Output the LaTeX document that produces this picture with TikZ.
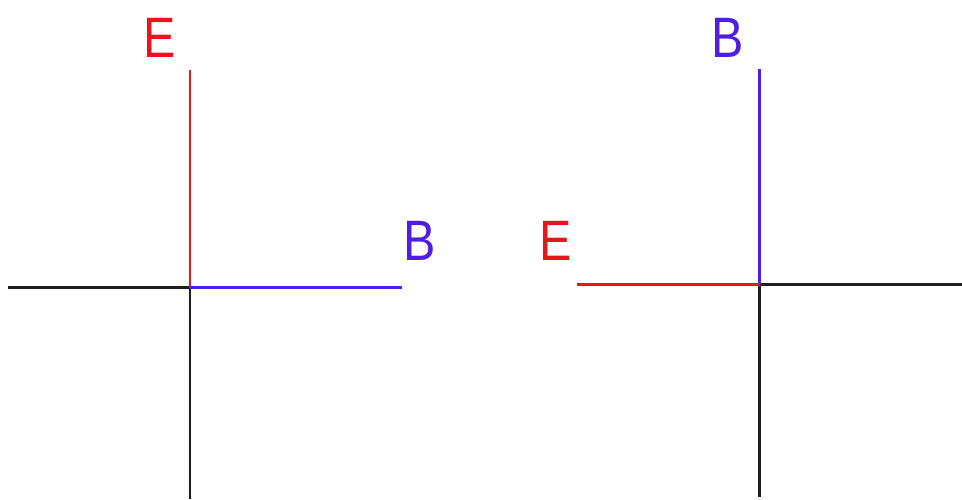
\documentclass[tikz,border=0pt]{standalone}
\usepackage{fontspec}
\setmainfont{Liberation Sans}
\definecolor{ered}{RGB}{232,20,30}
\definecolor{bblue}{RGB}{80,30,225}
\definecolor{axis}{RGB}{30,30,30}
\tikzset{
  lbl/.style={font=\fontsize{57}{57}\selectfont, inner sep=0pt, xscale=0.85},
  ln/.style={line width=2.2pt}
}
\begin{document}
\begin{tikzpicture}[x=1pt,y=-1pt]
\useasboundingbox (0,0) rectangle (962,499);
% left diagram
\coordinate (Lc) at (190,287.5);
\coordinate (Lt) at (190,70);
\coordinate (Lb) at (190,499);
\coordinate (Ll) at (8,287.5);
\coordinate (Lr) at (402,287.5);
\draw[ln,axis] (Ll) -- (Lc);
\draw[ln,axis] (Lc) -- (Lb);
\draw[ln,ered] (Lt) -- (Lc);
\draw[ln,bblue] (Lc) -- (Lr);
\node[lbl,text=ered] (LE) at (160,38) {E};
\node[lbl,text=bblue] (LB) at (420,241) {B};
% right diagram
\coordinate (Rc) at (759.5,284.5);
\coordinate (Rt) at (759.5,69);
\coordinate (Rb) at (759.5,497);
\coordinate (Rl) at (577,284.5);
\coordinate (Rr) at (962,284.5);
\draw[ln,axis] (Rc) -- (Rr);
\draw[ln,axis] (Rc) -- (Rb);
\draw[ln,bblue] (Rt) -- (Rc);
\draw[ln,ered] (Rl) -- (Rc);
\node[lbl,text=bblue] (RB) at (728,38) {B};
\node[lbl,text=ered] (RE) at (556,241) {E};
\end{tikzpicture}
\end{document}
